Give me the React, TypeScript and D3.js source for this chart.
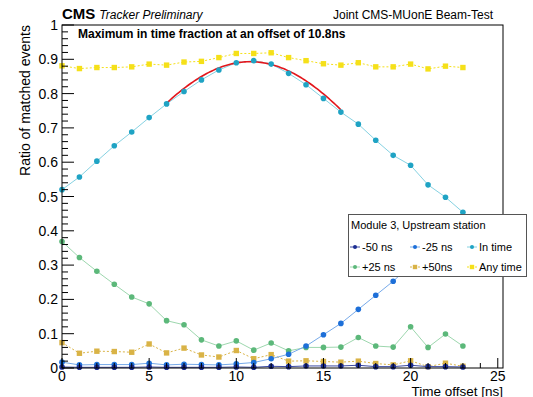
import React, { useEffect, useRef } from "react";
import * as d3 from "d3";

// time offsets [ns]
const offsets = [0, 1, 2, 3, 4, 5, 6, 7, 8, 9, 10, 11, 12, 13, 14, 15, 16, 17, 18, 19, 20, 21, 22, 23];

// ratio of matched events per series
const minus50 = [0.003, 0.002, 0.002, 0.002, 0.002, 0.003, 0.002, 0.002, 0.002, 0.002, 0.003, 0.002, 0.005, 0.004, 0.006, 0.006, 0.006, 0.008, 0.004, 0.004, 0.008, 0.004, 0.004, 0.003];
const minus25 = [0.017, 0.009, 0.01, 0.01, 0.01, 0.014, 0.009, 0.011, 0.01, 0.009, 0.012, 0.016, 0.027, 0.04, 0.064, 0.097, 0.13, 0.171, 0.212, 0.253, 0.3, 0.34, 0.38, 0.42];
const inTime = [0.52, 0.557, 0.603, 0.648, 0.688, 0.73, 0.77, 0.806, 0.84, 0.869, 0.89, 0.896, 0.886, 0.859, 0.826, 0.786, 0.746, 0.711, 0.664, 0.62, 0.591, 0.534, 0.498, 0.454];
const plus25 = [0.369, 0.322, 0.282, 0.244, 0.207, 0.187, 0.138, 0.126, 0.082, 0.064, 0.079, 0.052, 0.073, 0.05, 0.06, 0.06, 0.061, 0.089, 0.064, 0.061, 0.12, 0.06, 0.099, 0.064];
const plus50 = [0.074, 0.043, 0.049, 0.048, 0.046, 0.07, 0.044, 0.058, 0.038, 0.032, 0.051, 0.027, 0.039, 0.02, 0.021, 0.019, 0.017, 0.02, 0.013, 0.009, 0.021, 0.004, 0.014, 0.005];
const anyTime = [0.881, 0.873, 0.876, 0.876, 0.878, 0.886, 0.883, 0.892, 0.894, 0.905, 0.917, 0.917, 0.919, 0.905, 0.896, 0.887, 0.883, 0.89, 0.878, 0.878, 0.886, 0.872, 0.88, 0.876];

// gaussian fit to the in-time fraction
const fitAmp = 0.893;
const fitMean = 10.8;
const fitSigma = 8.9;
const fitRange = [6, 16];

const xTicks = [0, 5, 10, 15, 20, 25];
const yTicks = [0, 0.1, 0.2, 0.3, 0.4, 0.5, 0.6, 0.7, 0.8, 0.9, 1];

const FONT = "'Liberation Sans', Arial, Helvetica, sans-serif";

type Series = {
    label: string;
    values: number[];
    marker: "circle" | "square";
    color: string;
    lineColor: string;
    dashed: boolean;
};

const series: Series[] = [
    { label: "Any time", values: anyTime, marker: "square", color: "#f5e019", lineColor: "#f5e019", dashed: true },
    { label: "+50ns", values: plus50, marker: "square", color: "#d9b346", lineColor: "#d9b346", dashed: true },
    { label: "+25 ns", values: plus25, marker: "circle", color: "#5cb87a", lineColor: "#9dd7ae", dashed: false },
    { label: "In time", values: inTime, marker: "circle", color: "#1fa3c4", lineColor: "#86d2e2", dashed: false },
    { label: "-25 ns", values: minus25, marker: "circle", color: "#1d6fd8", lineColor: "#77aaea", dashed: false },
    { label: "-50 ns", values: minus50, marker: "circle", color: "#1c2d92", lineColor: "#3c4aa2", dashed: false },
];

// legend order (rows of three)
const legendOrder = ["-50 ns", "-25 ns", "In time", "+25 ns", "+50ns", "Any time"];

export default function App() {
    const svgRef = useRef<SVGSVGElement | null>(null);
    const width = 533;
    const height = 397;

    useEffect(() => {
        if (!svgRef.current) return;
        const svg = d3.select(svgRef.current);
        svg.selectAll("*").remove();

        const frame = { left: 62, right: 503, top: 25, bottom: 368 };

        const x = d3.scaleLinear().domain([0, 25.3]).range([frame.left, frame.right]);
        const y = d3.scaleLinear().domain([0, 1]).range([frame.bottom, frame.top]);

        svg.append("rect")
            .attr("width", width)
            .attr("height", height)
            .attr("fill", "#fff");

        // series lines
        const line = d3
            .line<number>()
            .x((_, i) => x(offsets[i]))
            .y((d) => y(d));

        series.forEach((s) => {
            svg.append("path")
                .datum(s.values)
                .attr("fill", "none")
                .attr("stroke", s.lineColor)
                .attr("stroke-width", 1)
                .attr("stroke-dasharray", s.dashed ? "2,2" : null)
                .attr("d", line);
        });

        // fit curve
        const fitXs = d3.range(fitRange[0], fitRange[1] + 0.001, 0.1);
        const fitLine = d3
            .line<number>()
            .x((d) => x(d))
            .y((d) => y(fitAmp * Math.exp(-((d - fitMean) ** 2) / (2 * fitSigma * fitSigma))));
        svg.append("path")
            .datum(fitXs)
            .attr("fill", "none")
            .attr("stroke", "#e3161c")
            .attr("stroke-width", 1.6)
            .attr("d", fitLine);

        // markers
        function drawMarker(g: d3.Selection<SVGGElement, unknown, null, undefined>, s: Series, cx: number, cy: number) {
            if (s.marker === "circle") {
                g.append("circle").attr("cx", cx).attr("cy", cy).attr("r", 2.8).attr("fill", s.color);
            } else {
                g.append("rect")
                    .attr("x", cx - 2.7)
                    .attr("y", cy - 2.7)
                    .attr("width", 5.4)
                    .attr("height", 5.4)
                    .attr("fill", s.color);
            }
        }

        series.forEach((s) => {
            const g = svg.append("g");
            s.values.forEach((v, i) => drawMarker(g, s, x(offsets[i]), y(v)));
        });

        // frame
        svg.append("rect")
            .attr("x", frame.left)
            .attr("y", frame.top)
            .attr("width", frame.right - frame.left)
            .attr("height", frame.bottom - frame.top)
            .attr("fill", "none")
            .attr("stroke", "#000")
            .attr("stroke-width", 1);

        // x ticks (inside, pointing up)
        const axG = svg.append("g").attr("stroke", "#000").attr("stroke-width", 1);
        d3.range(0, 26, 1).forEach((t) => {
            const major = t % 5 === 0;
            axG.append("line")
                .attr("x1", x(t))
                .attr("x2", x(t))
                .attr("y1", frame.bottom)
                .attr("y2", frame.bottom - (major ? 10 : 5));
        });
        // y ticks (inside, pointing right)
        d3.range(0, 51, 1).forEach((k) => {
            const major = k % 5 === 0;
            const yy = y(k * 0.02);
            axG.append("line")
                .attr("x1", frame.left)
                .attr("x2", frame.left + (major ? 12 : 6))
                .attr("y1", yy)
                .attr("y2", yy);
        });

        // tick labels
        svg.append("g")
            .selectAll("text")
            .data(xTicks)
            .enter()
            .append("text")
            .attr("x", (d) => x(d))
            .attr("y", 381)
            .attr("text-anchor", "middle")
            .attr("font-family", FONT)
            .attr("font-size", 14)
            .text((d) => String(d));

        svg.append("g")
            .selectAll("text")
            .data(yTicks)
            .enter()
            .append("text")
            .attr("x", 58)
            .attr("y", (d) => y(d) + 5)
            .attr("text-anchor", "end")
            .attr("font-family", FONT)
            .attr("font-size", 14)
            .text((d) => (d === 0 ? "0" : d === 1 ? "1" : d3.format(".1f")(d)));

        // axis titles
        svg.append("text")
            .attr("x", frame.right)
            .attr("y", 395.5)
            .attr("text-anchor", "end")
            .attr("font-family", FONT)
            .attr("font-size", 13.5)
            .text("Time offset [ns]");

        svg.append("text")
            .attr("transform", `translate(30,${frame.top}) rotate(-90)`)
            .attr("text-anchor", "end")
            .attr("font-family", FONT)
            .attr("font-size", 14)
            .text("Ratio of matched events");

        // header
        const head = svg.append("text").attr("x", 62).attr("y", 19).attr("font-family", FONT);
        head.append("tspan").attr("font-weight", "bold").attr("font-size", 15).text("CMS");
        head.append("tspan")
            .attr("dx", 4)
            .attr("font-style", "italic")
            .attr("font-size", 12)
            .text("Tracker Preliminary");

        svg.append("text")
            .attr("x", 493)
            .attr("y", 19)
            .attr("text-anchor", "end")
            .attr("font-family", FONT)
            .attr("font-size", 12)
            .text("Joint CMS-MUonE Beam-Test");

        svg.append("text")
            .attr("x", 78)
            .attr("y", 38)
            .attr("font-family", FONT)
            .attr("font-weight", "bold")
            .attr("font-size", 12)
            .text("Maximum in time fraction at an offset of 10.8ns");

        // legend
        const lg = svg.append("g");
        lg.append("rect")
            .attr("x", 348.5)
            .attr("y", 214.5)
            .attr("width", 178)
            .attr("height", 62)
            .attr("fill", "#fff")
            .attr("stroke", "#555")
            .attr("stroke-width", 1);
        lg.append("text")
            .attr("x", 351)
            .attr("y", 229)
            .attr("font-family", FONT)
            .attr("font-size", 11)
            .text("Module 3, Upstream station");

        const colX = [355, 415, 472];
        const rowY = [247, 267];
        legendOrder.forEach((name, i) => {
            const s = series.find((d) => d.label === name)!;
            const cx = colX[i % 3];
            const cy = rowY[Math.floor(i / 3)];
            const g = lg.append("g");
            g.append("line")
                .attr("x1", cx - 5)
                .attr("x2", cx + 5)
                .attr("y1", cy)
                .attr("y2", cy)
                .attr("stroke", s.lineColor)
                .attr("stroke-width", 1)
                .attr("stroke-dasharray", s.dashed ? "2,2" : null);
            if (s.marker === "circle") {
                g.append("circle").attr("cx", cx).attr("cy", cy).attr("r", 2).attr("fill", s.color);
            } else {
                g.append("rect")
                    .attr("x", cx - 2.2)
                    .attr("y", cy - 2.2)
                    .attr("width", 4.4)
                    .attr("height", 4.4)
                    .attr("fill", s.color);
            }
            g.append("text")
                .attr("x", cx + 7)
                .attr("y", cy + 4)
                .attr("font-family", FONT)
                .attr("font-size", 11)
                .text(name);
        });
    }, []);

    return (
        <svg
            ref={svgRef}
            width={width}
            height={height}
            viewBox={`0 0 ${width} ${height}`}
            style={{ position: "absolute", left: 0, top: 0, display: "block" }}
        />
    );
}
